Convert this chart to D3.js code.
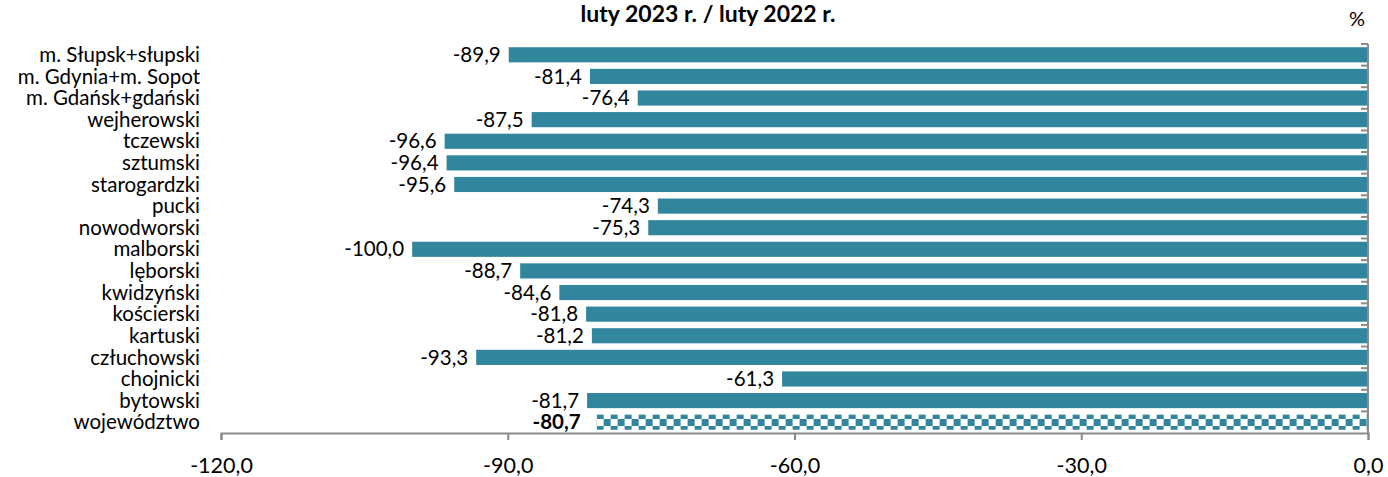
<!DOCTYPE html>
<html><head><meta charset="utf-8">
<script src="https://cdn.jsdelivr.net/npm/d3@7"></script>
<style>
body{margin:0;background:#fff;}
svg{display:block;font-family:Lato, "Open Sans", sans-serif;}
</style></head>
<body>
<svg id="c" width="1388" height="477"></svg>
<script>
const categories = ["m. Słupsk+słupski","m. Gdynia+m. Sopot","m. Gdańsk+gdański","wejherowski","tczewski","sztumski","starogardzki","pucki","nowodworski","malborski","lęborski","kwidzyński","kościerski","kartuski","człuchowski","chojnicki","bytowski","województwo"];
const values = [-89.9,-81.4,-76.4,-87.5,-96.6,-96.4,-95.6,-74.3,-75.3,-100.0,-88.7,-84.6,-81.8,-81.2,-93.3,-61.3,-81.7,-80.7];
const xTicks = [-120,-90,-60,-30,0];
const title = "luty 2023 r. / luty 2022 r.";
const unit = "%";

(function(){
const svg = d3.select("#c");
const pL = 221, pR = 1368, pT = 44, pB = 433;
const x = d3.scaleLinear().domain([-120,0]).range([pL,pR]);
const y = d3.scaleBand().domain(categories).range([pT,pB]).paddingInner(0.3).paddingOuter(0.15);
const color = "#31859C";
const axisCol = "#8a8a8a";
const fs = 20.5;
const fmt = v => d3.format(".1f")(v).replace(".",",").replace("−","-");

const defs = svg.append("defs");
const pat = defs.append("pattern").attr("id","chk").attr("patternUnits","userSpaceOnUse")
  .attr("width",14).attr("height",14).attr("x",x(-80.7)).attr("y",412);
pat.append("rect").attr("width",14).attr("height",14).attr("fill","#fff");
pat.append("rect").attr("x",0).attr("y",0).attr("width",7).attr("height",7).attr("fill",color);
pat.append("rect").attr("x",7).attr("y",7).attr("width",7).attr("height",7).attr("fill",color);

svg.append("g").selectAll("rect").data(categories).join("rect")
  .attr("x",(d,i)=>x(values[i]))
  .attr("y",d=>y(d))
  .attr("width",(d,i)=>x(0)-x(values[i]))
  .attr("height",y.bandwidth())
  .attr("fill",(d,i)=> d==="województwo" ? "url(#chk)" : color);

svg.append("g").selectAll("text").data(categories).join("text")
  .attr("x",(d,i)=>x(values[i]) - (d==="województwo" ? 16 : 8))
  .attr("y",d=>y(d)+y.bandwidth()/2)
  .attr("dy","0.35em")
  .attr("text-anchor","end")
  .attr("font-size",fs)
  .attr("font-weight",d=>d==="województwo"?"bold":"normal")
  .attr("fill","#000")
  .text((d,i)=>fmt(values[i]));

svg.append("g").selectAll("text").data(categories).join("text")
  .attr("x",200)
  .attr("y",d=>y(d)+y.bandwidth()/2)
  .attr("dy","0.35em")
  .attr("text-anchor","end")
  .attr("font-size",fs)
  .attr("fill","#000")
  .text(d=>d);

const xa = svg.append("g").attr("transform",`translate(0,${pB})`)
  .call(d3.axisBottom(x).tickValues(xTicks).tickSizeOuter(0).tickSize(7).tickFormat(fmt));
xa.select(".domain").attr("stroke",axisCol).attr("stroke-width",2);
xa.selectAll(".tick line").attr("stroke",axisCol).attr("stroke-width",2);
xa.selectAll(".tick text").attr("font-size",21.5).attr("font-family","Lato").attr("fill","#000").attr("dy",30);

const ya = svg.append("g");
ya.append("line").attr("x1",pR).attr("x2",pR).attr("y1",pT).attr("y2",pB).attr("stroke",axisCol).attr("stroke-width",2);
const bounds = d3.range(categories.length).map(i=>pT + i*(pB-pT)/categories.length);
ya.selectAll("line.t").data(bounds).join("line").attr("class","t")
  .attr("x1",pR-7).attr("x2",pR).attr("y1",d=>d).attr("y2",d=>d)
  .attr("stroke",axisCol).attr("stroke-width",2);

svg.append("text").attr("x",708).attr("y",22).attr("text-anchor","middle")
  .attr("font-size",23).attr("font-weight","bold").text(title);
svg.append("text").attr("x",1357).attr("y",26).attr("text-anchor","middle")
  .attr("font-size",20).text(unit);
})();
</script>
</body></html>
